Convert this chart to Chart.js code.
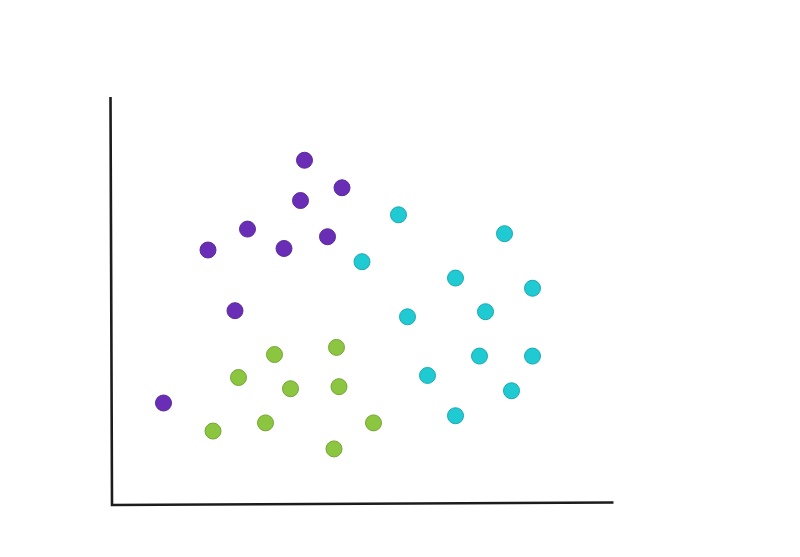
<!DOCTYPE html>
<html>
<head>
<meta charset="utf-8">
<script src="https://cdn.jsdelivr.net/npm/chart.js@4/dist/chart.umd.min.js"></script>
<style>
  html, body { margin: 0; padding: 0; background: #ffffff; }
  #wrap { width: 800px; height: 557px; position: relative; }
</style>
</head>
<body>
<div id="wrap"><canvas id="c" width="800" height="557"></canvas></div>
<script>
// Series values (x: 0..100, y: 0..80)
const purpleX = [38.5, 46.0, 37.7, 27.1, 19.2, 34.4, 43.1, 24.6, 10.3];
const purpleY = [67.6, 62.2, 59.7, 54.1, 50.0, 50.3, 52.6, 38.1, 20.0];

const greenX = [32.5, 44.9, 25.3, 35.7, 45.4, 20.2, 30.7, 52.3, 44.4];
const greenY = [29.5, 30.9, 25.0, 22.8, 23.2, 14.5, 16.1, 16.1, 11.0];

const cyanX = [57.3, 78.5, 50.0, 68.7, 84.1, 59.1, 74.7, 73.5, 84.1, 63.1, 79.9, 68.7];
const cyanY = [56.9, 53.2, 47.7, 44.5, 42.5, 36.9, 37.9, 29.2, 29.2, 25.4, 22.4, 17.5];

const xRange = [0, 100];
const yRange = [0, 80];

function pts(xs, ys) { return xs.map((x, i) => ({ x: x, y: ys[i] })); }

const axesPlugin = {
  id: 'handAxes',
  beforeDatasetsDraw(chart) {
    const ctx = chart.ctx;
    const xs = chart.scales.x, ys = chart.scales.y;
    const x0 = xs.getPixelForValue(xRange[0]);
    const x1 = xs.getPixelForValue(xRange[1]);
    const y0 = ys.getPixelForValue(yRange[0]);
    const y1 = ys.getPixelForValue(yRange[1]);
    ctx.save();
    ctx.strokeStyle = '#1c1c1c';
    ctx.lineWidth = 2.6;
    ctx.lineCap = 'butt';
    ctx.beginPath();
    ctx.moveTo(x0 - 1.5, y1);
    ctx.lineTo(x0, y0);
    ctx.lineTo(x1 + 1.5, y0 - 2.5);
    ctx.stroke();
    ctx.restore();
  }
};

new Chart(document.getElementById('c'), {
  type: 'scatter',
  data: {
    datasets: [
      { label: 'A', data: pts(purpleX, purpleY), backgroundColor: '#6a2db6', borderColor: '#5b2a9c', borderWidth: 1, pointRadius: 8, pointHoverRadius: 8 },
      { label: 'B', data: pts(greenX, greenY), backgroundColor: '#8cc53f', borderColor: '#73a634', borderWidth: 1, pointRadius: 8, pointHoverRadius: 8 },
      { label: 'C', data: pts(cyanX, cyanY), backgroundColor: '#1fcad3', borderColor: '#19a9b1', borderWidth: 1, pointRadius: 8, pointHoverRadius: 8 }
    ]
  },
  options: {
    responsive: false,
    animation: false,
    clip: false,
    layout: { padding: { left: 112, right: 188, top: 97, bottom: 52 } },
    plugins: { legend: { display: false }, tooltip: { enabled: false } },
    scales: {
      x: { display: false, type: 'linear', min: xRange[0], max: xRange[1] },
      y: { display: false, type: 'linear', min: yRange[0], max: yRange[1] }
    }
  },
  plugins: [axesPlugin]
});
</script>
</body>
</html>
